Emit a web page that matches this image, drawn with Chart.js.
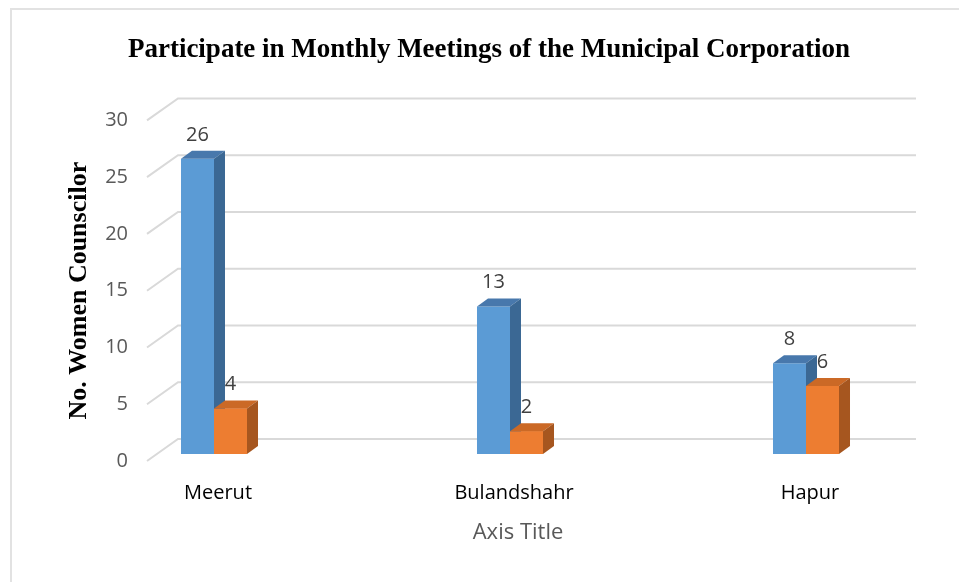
<!DOCTYPE html>
<html>
<head>
<meta charset="utf-8">
<script src="https://cdn.jsdelivr.net/npm/chart.js@4.4.1/dist/chart.umd.min.js"></script>
<style>
  html, body { margin: 0; padding: 0; background: #fff; overflow: hidden; }
  #moldura { position: absolute; left: 10px; top: 8px; width: 1000px; height: 700px;
             border-left: 2px solid #e2e2e2; border-top: 2px solid #e2e2e2; }
  #grafico { position: absolute; left: 0; top: 0; }
</style>
</head>
<body>
<div id="moldura"></div>
<canvas id="grafico" width="959" height="582"></canvas>
<script>
const cidades = ["Meerut", "Bulandshahr", "Hapur"];
const serie1 = [26, 13, 8];
const serie2 = [4, 2, 6];
const marcasY = [0, 5, 10, 15, 20, 25, 30];

// perspectiva "3D" no estilo do Excel
const profX = 11, profY = 8;      // profundidade de cada barra
const deslX = -4, deslY = -7;     // plano das barras atrás da frente
const paredeX = 31, paredeY = 22; // parede do fundo
const facesTopo = ["#4878AC", "#CB6926"];
const facesLado = ["#3B6894", "#A6561F"];

function face(ctx, pts, cor) {
  ctx.beginPath();
  ctx.moveTo(pts[0][0], pts[0][1]);
  for (let i = 1; i < pts.length; i++) ctx.lineTo(pts[i][0], pts[i][1]);
  ctx.closePath();
  ctx.fillStyle = cor;
  ctx.fill();
}

const tresD = {
  id: "tresD",
  afterLayout(chart) {
    // espaçamento das categorias como no original
    let x = chart.scales.x;
    x._startPixel = 70;
    x._length = 888;
    x.right = 889;
  },
  beforeDatasetsDraw(chart) {
    let ctx = chart.ctx;
    let a = chart.chartArea;
    let y = chart.scales.y;
    ctx.save();
    ctx.strokeStyle = "#d9d9d9";
    ctx.lineWidth = 2;
    y.ticks.forEach((t) => {
      let py = y.getPixelForValue(t.value);
      ctx.beginPath();
      ctx.moveTo(a.left, py);
      ctx.lineTo(a.left + paredeX, py - paredeY);
      ctx.lineTo(a.right - 22, py - paredeY);
      ctx.stroke();
    });
    ctx.restore();
    ctx.save();
    ctx.translate(deslX, deslY);
  },
  afterDatasetsDraw(chart) {
    let ctx = chart.ctx;
    // faces de topo e lado; a serie laranja é redesenhada por cima da azul
    chart.data.datasets.forEach((ds, i) => {
      chart.getDatasetMeta(i).data.forEach((el) => {
        if (i > 0) el.draw(ctx);
        let p = el.getProps(["x", "y", "base", "width"], true);
        let l = p.x - p.width / 2, r = p.x + p.width / 2;
        face(ctx, [[l, p.y], [l + profX, p.y - profY], [r + profX, p.y - profY], [r, p.y]], facesTopo[i]);
        face(ctx, [[r, p.y], [r + profX, p.y - profY], [r + profX, p.base - profY], [r, p.base]], facesLado[i]);
      });
    });
    ctx.fillStyle = "#404040";
    ctx.font = "20px 'Open Sans'";
    ctx.textAlign = "center";
    ctx.textBaseline = "middle";
    chart.data.datasets.forEach((ds, i) => {
      chart.getDatasetMeta(i).data.forEach((el, j) => {
        ctx.fillText(ds.data[j], el.x, el.y - 24);
      });
    });
    ctx.restore();
  }
};

let ctx = document.getElementById("grafico").getContext("2d");
let meuGrafico = new Chart(ctx, {
  type: "bar",
  data: {
    labels: cidades,
    datasets: [
      { label: "Series1", data: serie1, backgroundColor: "#5B9BD5", clip: false },
      { label: "Series2", data: serie2, backgroundColor: "#ED7D31", clip: false }
    ]
  },
  options: {
    responsive: false,
    animation: false,
    barPercentage: 1,
    categoryPercentage: 0.223,
    layout: { padding: { left: 40, right: 21, top: 0, bottom: 0 } },
    plugins: {
      legend: { display: false },
      tooltip: { enabled: false },
      title: {
        display: true,
        text: "Participate in Monthly Meetings of the Municipal Corporation",
        color: "#000",
        font: { family: "Liberation Serif", size: 27, weight: "bold" },
        padding: { top: 34, bottom: 54 }
      }
    },
    scales: {
      x: {
        grid: { display: false, drawTicks: false },
        border: { display: false },
        ticks: { color: "#000", font: { family: "Open Sans", size: 20 }, padding: 20 },
        title: {
          display: true,
          text: "Axis Title",
          color: "#595959",
          font: { family: "Open Sans", size: 22 },
          padding: { top: 0, bottom: 36 }
        },
        afterFit(s) { s.height = 121; }
      },
      y: {
        min: 0,
        max: 30,
        grid: { display: false, drawTicks: false },
        border: { display: false },
        afterBuildTicks(s) { s.ticks = marcasY.map((v) => ({ value: v })); },
        ticks: { color: "#595959", font: { family: "Open Sans", size: 20 }, padding: 19 },
        title: {
          display: true,
          text: "No. Women Counscilor",
          color: "#000",
          font: { family: "Liberation Serif", size: 26, weight: "bold" },
          padding: { top: 24, bottom: 0 }
        },
        afterFit(s) { s.width = 107; }
      }
    }
  },
  plugins: [tresD]
});
</script>
</body>
</html>
